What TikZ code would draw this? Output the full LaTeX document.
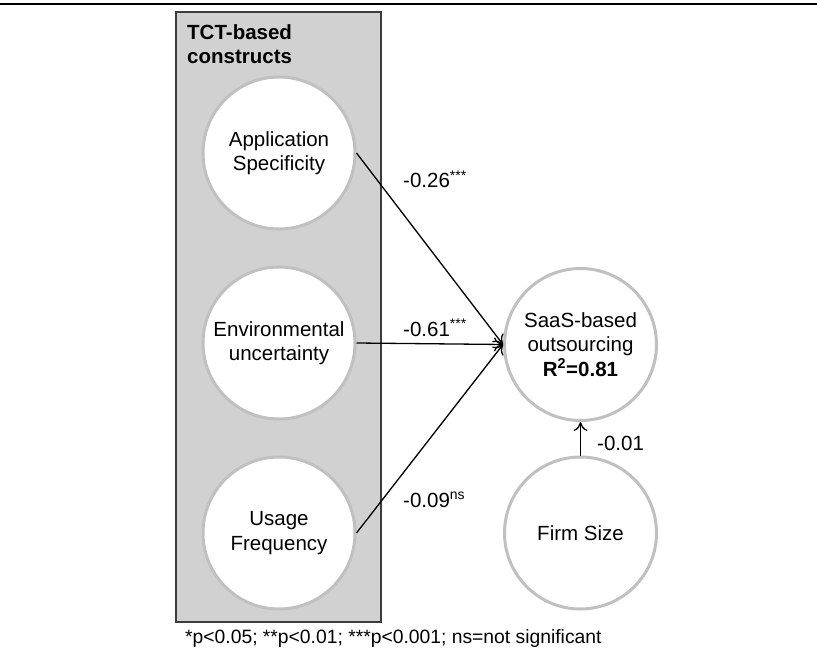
\documentclass[tikz,border=0pt]{standalone}
\usepackage{fontspec}
\setmainfont{Liberation Sans}
\usetikzlibrary{arrows.meta}
\definecolor{boxfill}{HTML}{D1D1D1}
\definecolor{boxline}{HTML}{3C3C3C}
\definecolor{circline}{HTML}{C0C0C0}
\newcommand{\supx}[1]{\raisebox{7.5pt}{\fontsize{14}{14}\selectfont #1}}
\begin{document}
\begin{tikzpicture}[x=1pt,y=-1pt,
  construct/.style={circle,draw=circline,line width=3pt,fill=white,minimum size=152pt,inner sep=0pt,align=center,font=\fontsize{20.5}{24.5}\selectfont},
  path/.style={draw=black,line width=1.3pt,-{To[length=9pt,width=14pt,line width=1.3pt]}},
  coef/.style={anchor=base west,inner sep=0pt,font=\fontsize{20.5}{24.5}\selectfont}]
\useasboundingbox (0,0) rectangle (817,663);
\fill[white] (0,0) rectangle (817,663);
\draw[line width=2pt] (0,3.7) -- (817,3.7);
\draw[boxline,fill=boxfill,line width=1.2pt] (176,12) rectangle (381,622);
\node[anchor=north west,inner sep=0pt,align=left,font=\fontsize{20.5}{24}\selectfont\bfseries] (title) at (187,24.5) {TCT-based\\constructs};
\node[construct] (app) at (279,153) {Application\\Specificity};
\node[construct] (env) at (279,343) {Environmental\\uncertainty};
\node[construct] (use) at (279,533) {Usage\\Frequency};
\node[construct] (saas) at (580.5,344.5) {SaaS-based\\outsourcing\\\textbf{R\textsuperscript{2}=0.81}};
\node[construct] (firm) at (580.5,533) {Firm Size};
\draw[path] (app.east) -- (saas.west);
\draw[path] (env.east) -- (saas.west);
\draw[path] (use.east) -- (saas.west);
\draw[path] (firm.north) -- (saas.south);
\node[coef] (c1) at (403,188) {-0.26\supx{***}};
\node[coef] (c2) at (403,336) {-0.61\supx{***}};
\node[coef] (c3) at (403,507) {-0.09\supx{ns}};
\node[coef] (c4) at (597,450) {-0.01};
\node[anchor=base west,inner sep=0pt,font=\fontsize{19.3}{23}\selectfont] (note) at (185,643) {*p<0.05; **p<0.01; ***p<0.001; ns=not significant};
\end{tikzpicture}
\end{document}
